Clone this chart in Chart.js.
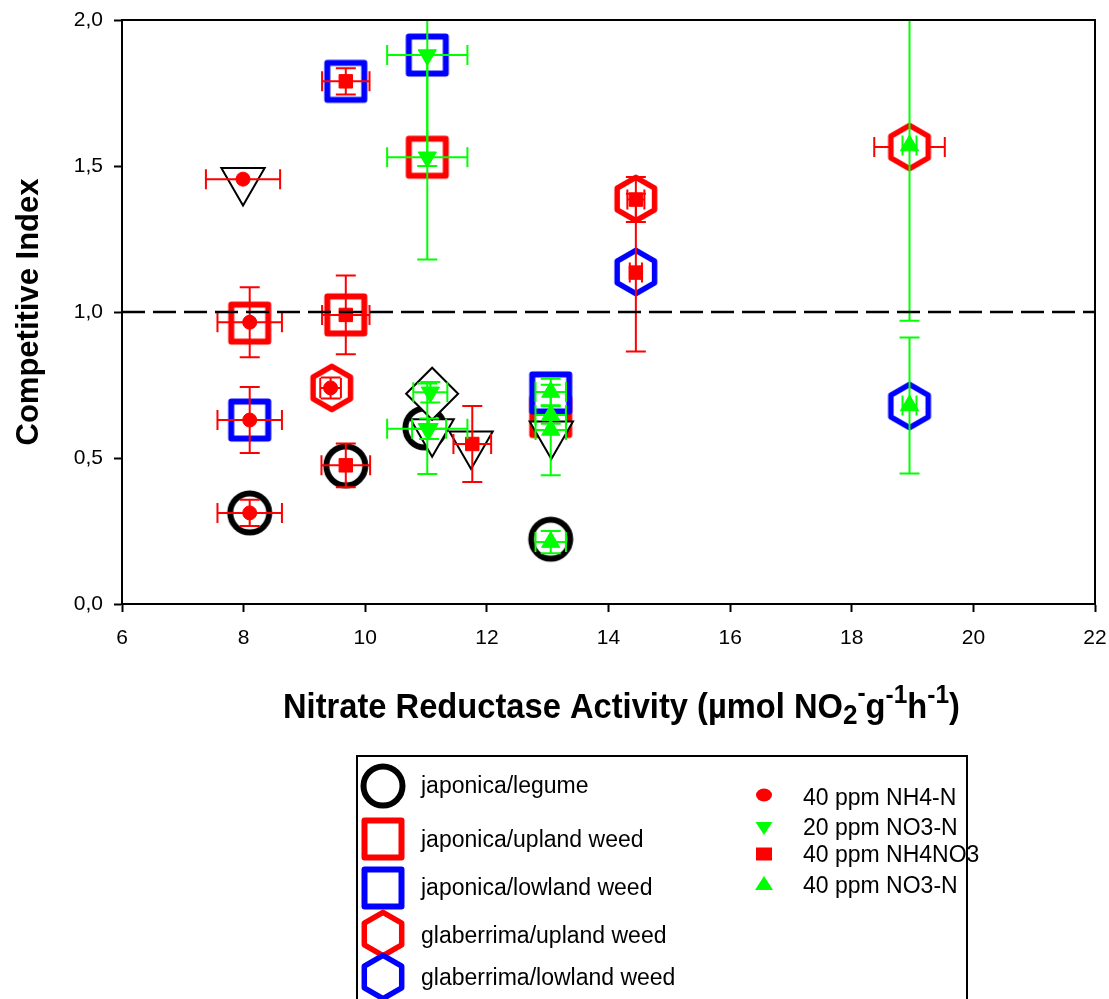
<!DOCTYPE html>
<html>
<head>
<meta charset="utf-8">
<script src="https://cdn.jsdelivr.net/npm/chart.js"></script>
<style>
  body { margin: 0; background: #fff; }
  #contenedor { width: 1109px; height: 999px; position: relative; }
</style>
</head>
<body>
<div id="contenedor"><canvas id="grafico"></canvas></div>
<script>
// Valores

// Marcas de eje
const ticksX = [6, 8, 10, 12, 14, 16, 18, 20, 22];
const ticksY = [0, 0.5, 1.0, 1.5, 2.0];

// 40 ppm NH4-N (circulo rojo)
const nh4X    = [7.99, 8.10, 8.10, 8.10, 9.43];
const nh4Y    = [1.455, 0.965, 0.63, 0.312, 0.74];
const nh4ErrX = [0.61, 0.53, 0.53, 0.53, 0.17];
const nh4ErrY = [0, 0.12, 0.113, 0.045, 0.036];

// 20 ppm NO3-N (triangulo verde invertido)
const no3BajoX    = [11.02, 11.02, 11.07, 11.05, 11.02];
const no3BajoY    = [1.88, 1.53, 0.725, 0.60, 0.60];
const no3BajoErrX = [0.66, 0.66, 0.28, 0.28, 0.66];
const no3BajoErrY = [0.38, 0.35, 0.035, 0.035, 0.155];

// 40 ppm NH4NO3 (cuadrado rojo)
const nitratoX    = [9.68, 9.68, 9.68, 11.76, 14.45, 14.45];
const nitratoY    = [1.79, 0.99, 0.475, 0.548, 1.385, 1.135];
const nitratoErrX = [0.39, 0.39, 0.40, 0.31, 0.14, 0.10];
const nitratoErrY = [0.045, 0.135, 0.075, 0.13, 0.077, 0.27];

// 40 ppm NO3-N (triangulo verde)
const no3AltoX    = [13.05, 13.05, 13.05, 13.05, 18.95, 18.95];
const no3AltoY    = [0.726, 0.647, 0.596, 0.212, 1.57, 0.68];
const no3AltoErrX = [0.25, 0.25, 0.25, 0.25, 0.115, 0.115];
const no3AltoErrY = [0.045, 0.03, 0.155, 0.038, 0.60, 0.233];

// Combinaciones de competencia (marcadores grandes)
const leguminosaX = [8.10, 9.68, 10.98, 13.05];
const leguminosaY = [0.312, 0.473, 0.603, 0.222];
const japAltaX = [8.10, 9.68, 11.02, 13.05];
const japAltaY = [0.962, 0.99, 1.53, 0.642];
const japBajaX = [8.10, 9.68, 11.02, 13.05];
const japBajaY = [0.63, 1.79, 1.88, 0.723];
const glaAltaX = [9.45, 14.45, 18.95];
const glaAltaY = [0.74, 1.387, 1.565];
const glaAltaErrX = [0, 0, 0.58];
const glaBajaX = [14.45, 18.95];
const glaBajaY = [1.137, 0.678];
const trianguloX = [7.99, 11.10, 11.74, 13.06];
const trianguloY = [1.45, 0.59, 0.548, 0.582];
const romboX = [11.10];
const romboY = [0.72];

const ROJO = '#ff0000';
const VERDE = '#00ff00';
const AZUL = '#0000ff';
const NEGRO = '#000000';
const FUENTE = '"Liberation Sans", Arial, sans-serif';
const FUENTE_ESTRECHA = '"Liberation Sans Narrow", "Arial Narrow", "Liberation Sans", Arial, sans-serif';

// Juntar x e y en puntos
function puntos(xs, ys) {
  return xs.map((x, i) => ({ x: x, y: ys[i] }));
}

// Marcadores grandes dibujados en un canvas pequeño
function crearMarcador(forma, color) {
  const c = document.createElement('canvas');
  c.width = 60;
  c.height = 60;
  const g = c.getContext('2d');
  g.strokeStyle = color;
  g.fillStyle = '#fff';
  g.lineJoin = 'round';
  g.beginPath();
  if (forma === 'circulo') {
    g.lineWidth = 6;
    g.arc(30, 30, 19.5, 0, Math.PI * 2);
  } else if (forma === 'cuadrado') {
    g.lineWidth = 6;
    g.rect(30 - 18.5, 30 - 18.5, 37, 37);
  } else {
    g.lineWidth = 5.5;
    for (let k = 0; k < 6; k++) {
      const a = (-90 + 60 * k) * Math.PI / 180;
      const px = 30 + Math.cos(a) * 21.6;
      const py = 30 + Math.sin(a) * 21.6;
      if (k === 0) g.moveTo(px, py); else g.lineTo(px, py);
    }
  }
  g.closePath();
  g.fill();
  g.stroke();
  return c;
}

const circuloNegro = crearMarcador('circulo', NEGRO);
const cuadradoRojo = crearMarcador('cuadrado', ROJO);
const cuadradoAzul = crearMarcador('cuadrado', AZUL);
const hexRojo = crearMarcador('hexagono', ROJO);
const hexAzul = crearMarcador('hexagono', AZUL);

// Serie rellena con barras de error
function serieRellena(nombre, xs, ys, errX, errY, color, estilo, radio, rotacion) {
  return {
    label: nombre,
    data: puntos(xs, ys),
    errX: errX,
    errY: errY,
    colorError: color,
    pointStyle: estilo,
    pointRadius: radio,
    pointRotation: rotacion || 0,
    pointBackgroundColor: color,
    pointBorderColor: color,
    pointBorderWidth: 1
  };
}

// Serie de contorno (combinacion)
function serieContorno(nombre, xs, ys, estilo, extra) {
  return Object.assign({
    label: nombre,
    data: puntos(xs, ys),
    pointStyle: estilo,
    pointRadius: 22,
    pointBackgroundColor: '#fff',
    pointBorderColor: NEGRO,
    pointBorderWidth: 2
  }, extra || {});
}

// Plugin: barras de error, dibujadas justo antes de cada serie
const barrasError = {
  id: 'barrasError',
  beforeDatasetDraw(chart, args) {
    const ds = chart.data.datasets[args.index];
    if (!ds.errX && !ds.errY) return;
    const { ctx, chartArea, scales } = chart;
    ctx.save();
    ctx.beginPath();
    ctx.rect(chartArea.left, chartArea.top, chartArea.right - chartArea.left, chartArea.bottom - chartArea.top);
    ctx.clip();
    ctx.strokeStyle = ds.colorError;
    ctx.lineWidth = 2;
    ds.data.forEach((p, i) => {
      const x = scales.x.getPixelForValue(p.x);
      const y = scales.y.getPixelForValue(p.y);
      const ex = ds.errX ? ds.errX[i] : 0;
      const ey = ds.errY ? ds.errY[i] : 0;
      ctx.beginPath();
      if (ex > 0) {
        const x1 = scales.x.getPixelForValue(p.x - ex);
        const x2 = scales.x.getPixelForValue(p.x + ex);
        ctx.moveTo(x1, y); ctx.lineTo(x2, y);
        ctx.moveTo(x1, y - 10); ctx.lineTo(x1, y + 10);
        ctx.moveTo(x2, y - 10); ctx.lineTo(x2, y + 10);
      }
      if (ey > 0) {
        const y1 = scales.y.getPixelForValue(p.y + ey);
        const y2 = scales.y.getPixelForValue(p.y - ey);
        ctx.moveTo(x, y1); ctx.lineTo(x, y2);
        ctx.moveTo(x - 10, y1); ctx.lineTo(x + 10, y1);
        ctx.moveTo(x - 10, y2); ctx.lineTo(x + 10, y2);
      }
      ctx.stroke();
    });
    ctx.restore();
  }
};

// Plugin: linea discontinua en 1,0 y marco superior/derecho
const marcoYLinea = {
  id: 'marcoYLinea',
  afterDatasetsDraw(chart) {
    const { ctx, chartArea, scales } = chart;
    const y1 = scales.y.getPixelForValue(1.0);
    ctx.save();
    ctx.strokeStyle = NEGRO;
    ctx.lineWidth = 2.5;
    ctx.setLineDash([23, 8]);
    ctx.beginPath();
    ctx.moveTo(chartArea.left, y1);
    ctx.lineTo(chartArea.right, y1);
    ctx.stroke();
    ctx.setLineDash([]);
    ctx.lineWidth = 2;
    ctx.beginPath();
    ctx.moveTo(chartArea.left, chartArea.top);
    ctx.lineTo(chartArea.right, chartArea.top);
    ctx.lineTo(chartArea.right, chartArea.bottom);
    ctx.stroke();
    ctx.restore();
  }
};

// Plugin: titulo del eje X con subindices y superindices (letra estrecha)
const tituloX = {
  id: 'tituloX',
  afterDraw(chart) {
    const ctx = chart.ctx;
    const base = 35;
    const partes = [
      { t: 'Nitrate Reductase Activity (\u00b5mol NO', s: 1, dy: 0 },
      { t: '2', s: 0.8, dy: 6 },
      { t: '-', s: 0.75, dy: -17 },
      { t: 'g', s: 1, dy: 0 },
      { t: '-1', s: 0.75, dy: -15 },
      { t: 'h', s: 1, dy: 0 },
      { t: '-1', s: 0.75, dy: -15 },
      { t: ')', s: 1, dy: 0 }
    ];
    ctx.save();
    let total = 0;
    partes.forEach(p => {
      ctx.font = 'bold ' + (base * p.s) + 'px ' + FUENTE_ESTRECHA;
      p.w = ctx.measureText(p.t).width;
      total += p.w;
    });
    const ancho = 677;
    ctx.translate(283, 718);
    ctx.scale(ancho / total, 1);
    ctx.fillStyle = NEGRO;
    ctx.textBaseline = 'alphabetic';
    let x = 0;
    partes.forEach(p => {
      ctx.font = 'bold ' + (base * p.s) + 'px ' + FUENTE_ESTRECHA;
      ctx.fillText(p.t, x, p.dy);
      x += p.w;
    });
    ctx.restore();
  }
};

// Dibujar un marcador pequeño relleno (para la leyenda)
function marcaPequena(ctx, forma, color, x, y) {
  ctx.fillStyle = color;
  ctx.beginPath();
  if (forma === 'circulo') {
    ctx.ellipse(x, y, 8, 6.5, 0, 0, Math.PI * 2);
  } else if (forma === 'cuadrado') {
    ctx.rect(x - 8, y - 6.5, 16, 13);
  } else if (forma === 'abajo') {
    ctx.moveTo(x - 8.5, y - 6); ctx.lineTo(x + 8.5, y - 6); ctx.lineTo(x, y + 7);
  } else {
    ctx.moveTo(x - 9, y + 7); ctx.lineTo(x + 9, y + 7); ctx.lineTo(x, y - 7);
  }
  ctx.closePath();
  ctx.fill();
}

// Plugin: leyenda en caja bajo el grafico
const leyenda = {
  id: 'leyenda',
  afterDraw(chart) {
    const ctx = chart.ctx;
    const izquierda = [
      { img: circuloNegro, texto: 'japonica/legume', ym: 786, yt: 787 },
      { img: cuadradoRojo, texto: 'japonica/upland weed', ym: 839, yt: 841 },
      { img: cuadradoAzul, texto: 'japonica/lowland weed', ym: 888, yt: 889 },
      { img: hexRojo, texto: 'glaberrima/upland weed', ym: 934, yt: 937 },
      { img: hexAzul, texto: 'glaberrima/lowland weed', ym: 977, yt: 979 }
    ];
    const derecha = [
      { forma: 'circulo', color: ROJO, texto: '40 ppm NH4-N', ym: 795, yt: 799 },
      { forma: 'abajo', color: VERDE, texto: '20 ppm NO3-N', ym: 828, yt: 829 },
      { forma: 'cuadrado', color: ROJO, texto: '40 ppm NH4NO3', ym: 854, yt: 856 },
      { forma: 'arriba', color: VERDE, texto: '40 ppm NO3-N', ym: 883, yt: 887 }
    ];
    ctx.save();
    ctx.font = '23px ' + FUENTE;
    ctx.textBaseline = 'middle';
    ctx.textAlign = 'left';
    izquierda.forEach(e => {
      ctx.drawImage(e.img, 383 - 30, e.ym - 30);
      ctx.fillStyle = NEGRO;
      ctx.fillText(e.texto, 421, e.yt);
    });
    derecha.forEach(e => {
      marcaPequena(ctx, e.forma, e.color, 764, e.ym);
      ctx.fillStyle = NEGRO;
      ctx.fillText(e.texto, 803, e.yt);
    });
    ctx.strokeStyle = NEGRO;
    ctx.lineWidth = 2;
    ctx.strokeRect(357, 756, 610, 270);
    ctx.restore();
  }
};

// Series: la primera queda dibujada encima
const series = [
  serieRellena('40 ppm NO3-N', no3AltoX, no3AltoY, no3AltoErrX, no3AltoErrY, VERDE, 'triangle', 10.5, 0),
  serieRellena('20 ppm NO3-N', no3BajoX, no3BajoY, no3BajoErrX, no3BajoErrY, VERDE, 'triangle', 10.5, 180),
  serieRellena('40 ppm NH4NO3', nitratoX, nitratoY, nitratoErrX, nitratoErrY, ROJO, 'rect', 9.5, 0),
  serieRellena('40 ppm NH4-N', nh4X, nh4Y, nh4ErrX, nh4ErrY, ROJO, 'circle', 7, 0),
  serieContorno('rombo', romboX, romboY, 'rectRot', { pointRadius: 26 }),
  serieContorno('triangulo', trianguloX, trianguloY, 'triangle', { pointRadius: 25, pointRotation: 180 }),
  serieContorno('japonica/lowland weed', japBajaX, japBajaY, cuadradoAzul),
  serieContorno('japonica/upland weed', japAltaX, japAltaY, cuadradoRojo),
  serieContorno('japonica/legume', leguminosaX, leguminosaY, circuloNegro),
  serieContorno('glaberrima/lowland weed', glaBajaX, glaBajaY, hexAzul),
  serieContorno('glaberrima/upland weed', glaAltaX, glaAltaY, hexRojo, { errX: glaAltaErrX, colorError: ROJO })
];

const ctx = document.getElementById('grafico').getContext('2d');
const grafico = new Chart(ctx, {
  type: 'scatter',
  data: { datasets: series },
  options: {
    responsive: true,
    maintainAspectRatio: false,
    animation: false,
    events: [],
    layout: { autoPadding: false, padding: { top: 20, left: 0, right: 14, bottom: 355 } },
    plugins: {
      legend: { display: false },
      tooltip: { enabled: false }
    },
    scales: {
      x: {
        type: 'linear',
        min: ticksX[0],
        max: ticksX[ticksX.length - 1],
        afterBuildTicks: (eje) => { eje.ticks = ticksX.map(v => ({ value: v })); },
        afterFit: (eje) => {
          eje.height = 40;
          eje.paddingLeft = 0;
          eje.paddingRight = 0;
        },
        border: { display: true, color: NEGRO, width: 2 },
        grid: { drawOnChartArea: false, drawTicks: true, tickLength: 8, tickColor: NEGRO, tickWidth: 2 },
        ticks: {
          color: NEGRO,
          padding: 14,
          maxRotation: 0,
          font: { family: FUENTE_ESTRECHA, size: 21 },
          callback: (v) => String(v)
        }
      },
      y: {
        type: 'linear',
        min: ticksY[0],
        max: ticksY[ticksY.length - 1],
        afterBuildTicks: (eje) => { eje.ticks = ticksY.map(v => ({ value: v })); },
        afterFit: (eje) => {
          eje.width = 122;
          eje.paddingTop = 0;
          eje.paddingBottom = 0;
        },
        border: { display: true, color: NEGRO, width: 2 },
        grid: { drawOnChartArea: false, drawTicks: true, tickLength: 8, tickColor: NEGRO, tickWidth: 2 },
        ticks: {
          color: NEGRO,
          padding: 11,
          font: { family: FUENTE, size: 21 },
          callback: (v) => v.toFixed(1).replace('.', ',')
        },
        title: {
          display: true,
          text: 'Competitive Index',
          color: NEGRO,
          padding: { top: 11, bottom: 0 },
          font: { family: FUENTE, size: 31, weight: 'bold' }
        }
      }
    }
  },
  plugins: [barrasError, marcoYLinea, tituloX, leyenda]
});
</script>
</body>
</html>
